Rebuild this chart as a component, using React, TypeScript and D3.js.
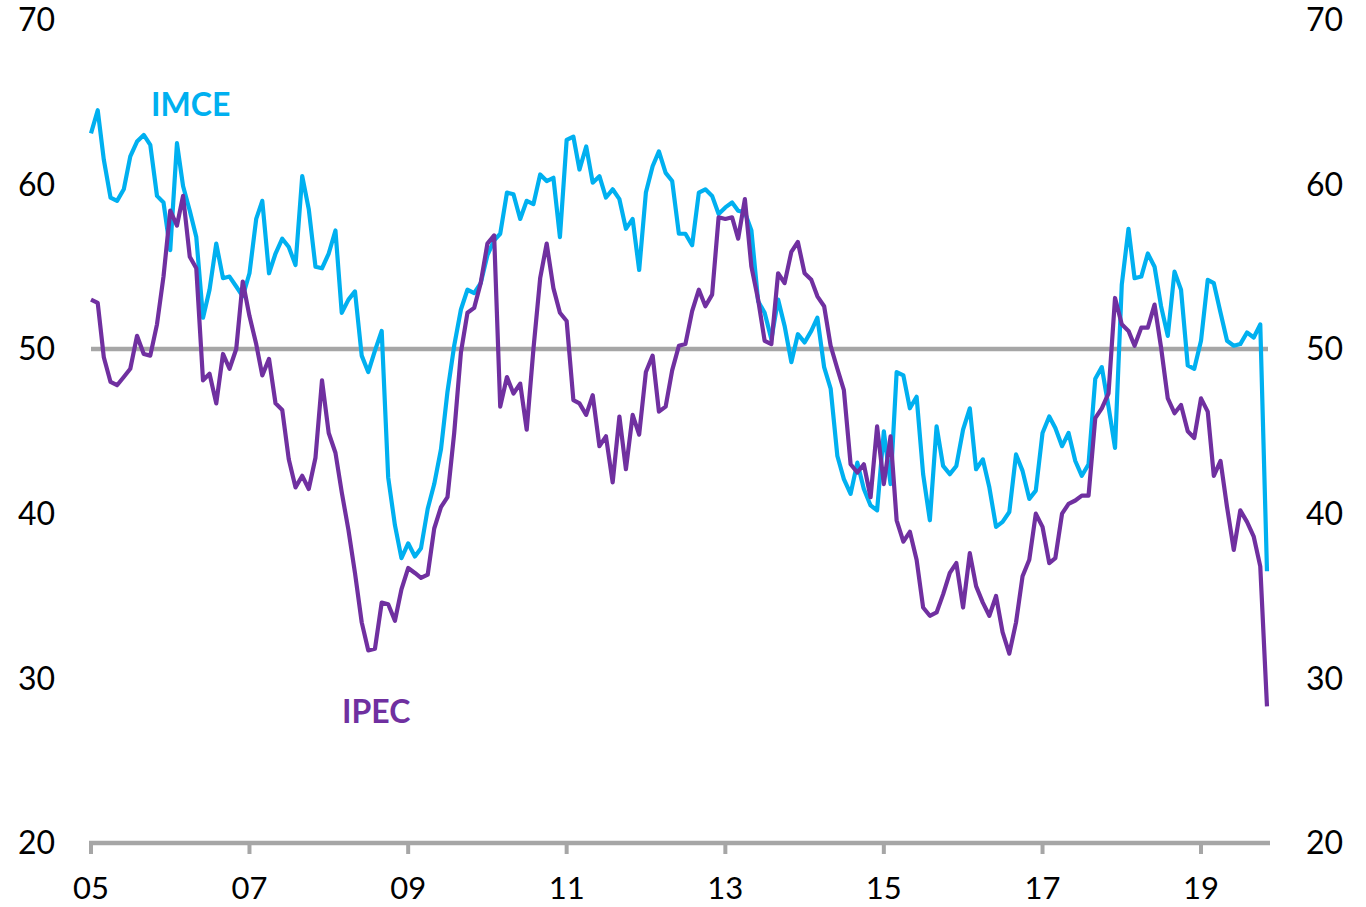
import React from "react";
import * as d3 from "d3";

// monthly readings, Jan 2005 .. Nov 2019
const imce: number[] = [
  63.1, 64.5, 61.5, 59.2, 59.0, 59.7, 61.7, 62.6, 63.0, 62.4, 59.3, 58.9,
  56.0, 62.5, 59.9, 58.4, 56.8, 51.9, 53.6, 56.4, 54.3, 54.4, 53.8, 53.2,
  54.6, 57.9, 59.0, 54.6, 55.8, 56.7, 56.2, 55.1, 60.5, 58.5, 55.0, 54.9,
  55.8, 57.2, 52.2, 53.0, 53.5, 49.6, 48.6, 49.9, 51.1, 42.2, 39.3, 37.3,
  38.2, 37.4, 37.9, 40.3, 41.8, 43.9, 47.4, 50.2, 52.4, 53.6, 53.4, 54.0,
  55.7, 56.6, 57.0, 59.5, 59.4, 57.9, 59.0, 58.8, 60.6, 60.2, 60.4, 56.8,
  62.7, 62.9, 60.9, 62.3, 60.1, 60.5, 59.2, 59.7, 59.1, 57.3, 57.9, 54.8,
  59.5, 61.1, 62.0, 60.7, 60.2, 57.0, 57.0, 56.3, 59.5, 59.7, 59.3, 58.2,
  58.6, 58.9, 58.4, 58.3, 57.2, 52.9, 52.2, 50.6, 53.0, 51.4, 49.2, 50.9,
  50.4, 51.1, 51.9, 48.9, 47.6, 43.5, 42.1, 41.2, 43.1, 41.5, 40.5, 40.2,
  45.0, 41.8, 48.6, 48.4, 46.4, 47.1, 42.4, 39.6, 45.3, 42.9, 42.4, 42.9,
  45.1, 46.4, 42.7, 43.3, 41.6, 39.2, 39.5, 40.1, 43.6, 42.6, 40.9, 41.4,
  44.9, 45.9, 45.2, 44.1, 44.9, 43.2, 42.3, 43.0, 48.2, 48.9, 46.5, 44.0,
  53.9, 57.3, 54.3, 54.4, 55.8, 55.0, 52.6, 50.8, 54.7, 53.6, 49.0, 48.8,
  50.5, 54.2, 54.0, 52.2, 50.5, 50.2, 50.3, 51.0, 50.7, 51.5, 36.5,
];

const ipec: number[] = [
  53.0, 52.8, 49.5, 48.0, 47.8, 48.3, 48.8, 50.8, 49.7, 49.6, 51.5, 54.4,
  58.4, 57.5, 59.3, 55.6, 54.9, 48.1, 48.5, 46.7, 49.7, 48.8, 50.0, 54.1,
  52.0, 50.3, 48.4, 49.4, 46.7, 46.3, 43.3, 41.6, 42.3, 41.5, 43.4, 48.1,
  44.9, 43.7, 41.3, 39.0, 36.4, 33.4, 31.7, 31.8, 34.6, 34.5, 33.5, 35.4,
  36.7, 36.4, 36.1, 36.3, 39.1, 40.4, 41.0, 44.9, 49.8, 52.2, 52.5, 54.0,
  56.4, 56.9, 46.5, 48.3, 47.3, 47.9, 45.1, 50.0, 54.3, 56.4, 53.7, 52.2,
  51.7, 46.9, 46.7, 46.0, 47.2, 44.1, 44.7, 41.9, 45.9, 42.7, 46.0, 44.8,
  48.6, 49.6, 46.2, 46.5, 48.7, 50.2, 50.3, 52.3, 53.6, 52.6, 53.3, 58.0,
  57.9, 58.0, 56.7, 59.1, 55.0, 53.0, 50.5, 50.3, 54.6, 54.0, 55.9, 56.5,
  54.6, 54.2, 53.2, 52.6, 50.2, 48.8, 47.5, 43.0, 42.5, 43.0, 41.0, 45.3,
  41.8, 44.7, 39.6, 38.3, 38.9, 37.2, 34.3, 33.8, 34.0, 35.1, 36.4, 37.0,
  34.3, 37.6, 35.6, 34.6, 33.8, 35.0, 32.8, 31.5, 33.4, 36.2, 37.2, 40.0,
  39.2, 37.0, 37.3, 40.0, 40.6, 40.8, 41.1, 41.1, 45.8, 46.4, 47.3, 53.1,
  51.5, 51.1, 50.2, 51.3, 51.3, 52.7, 50.1, 47.0, 46.1, 46.6, 45.0, 44.6,
  47.0, 46.2, 42.3, 43.2, 40.4, 37.8, 40.2, 39.5, 38.6, 36.8, 28.3,
];

const yTicks = [20, 30, 40, 50, 60, 70];
const xTickYears = [2005, 2007, 2009, 2011, 2013, 2015, 2017, 2019];

const months = imce.map((_, i) => new Date(2005, i, 1));

const App = () => {
  const width = 1366;
  const height = 907;

  const x = d3
    .scaleTime()
    .domain([new Date(2005, 0, 1), new Date(2019, 0, 1)])
    .range([91, 1201]);
  const y = d3.scaleLinear().domain([20, 70]).range([843, 19.7]);

  const line = d3
    .line<number>()
    .x((_, i) => x(months[i]))
    .y((d) => y(d));

  const font = "Lato, 'Open Sans', sans-serif";
  const grey = "#a6a6a6";
  const xEnd = x(months[months.length - 1]);

  return (
    <div style={{ position: "absolute", left: 0, top: 0 }}>
      <svg width={width} height={height} style={{ display: "block", background: "#fff" }}>
        {/* 50 reference line */}
        <line x1={x(months[0])} x2={xEnd + 1} y1={y(50)} y2={y(50)} stroke={grey} strokeWidth={4.5} />

        <path d={line(imce) || ""} fill="none" stroke="#00b0f0" strokeWidth={4.2} strokeLinejoin="round" />
        <path d={line(ipec) || ""} fill="none" stroke="#7030a0" strokeWidth={4.2} strokeLinejoin="round" />

        {/* x axis */}
        <line x1={89} x2={xEnd + 3} y1={y(20)} y2={y(20)} stroke={grey} strokeWidth={4.5} />
        {xTickYears.map((yr) => {
          const xp = x(new Date(yr, 0, 1));
          return (
            <g key={yr}>
              <line x1={xp} x2={xp} y1={y(20)} y2={y(20) + 11} stroke={grey} strokeWidth={4} />
              <text x={xp} y={899} textAnchor="middle" fontFamily={font} fontSize={31} fill="#000">
                {String(yr % 100).padStart(2, "0")}
              </text>
            </g>
          );
        })}

        {/* y labels, both sides */}
        {yTicks.map((t) => (
          <g key={t}>
            <text x={55} y={y(t)} dy="0.35em" textAnchor="end" fontFamily={font} fontSize={32} fill="#000">
              {t}
            </text>
            <text x={1306} y={y(t)} dy="0.35em" textAnchor="start" fontFamily={font} fontSize={32} fill="#000">
              {t}
            </text>
          </g>
        ))}

        <text x={151} y={116} fontFamily={font} fontWeight="bold" fontSize={32} fill="#00b0f0">
          IMCE
        </text>
        <text x={342} y={723} fontFamily={font} fontWeight="bold" fontSize={32} fill="#7030a0">
          IPEC
        </text>
      </svg>
    </div>
  );
};

export default App;
